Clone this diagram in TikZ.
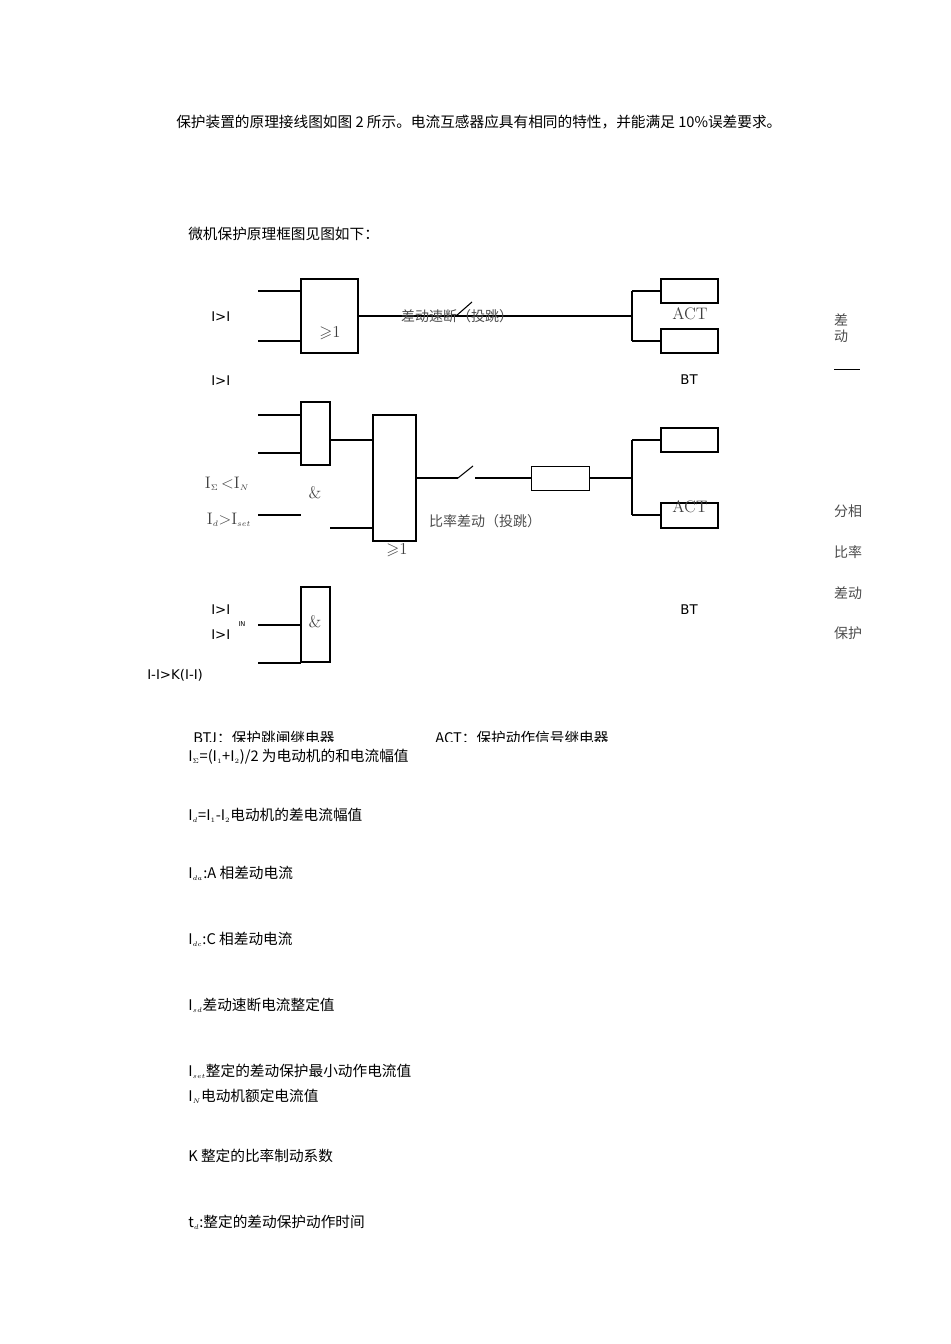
\documentclass[tikz,border=0pt]{standalone}
\usepackage{amssymb}
\usepackage{fontspec}
\newfontfamily\cjk{Noto Sans CJK SC}
\newfontfamily\sans{DejaVu Sans}
\begin{document}
\begin{tikzpicture}[x=0.75pt,y=-0.75pt,
  box/.style={draw,line width=0.9pt},
  wire/.style={line width=0.8pt},
  tx/.style={font=\cjk\fontsize{11}{12}\selectfont,inner sep=0pt},
  lb/.style={font=\cjk\fontsize{10.5}{12}\selectfont,inner sep=0pt,text=black!70},
  sm/.style={font=\sans\fontsize{10}{12}\selectfont,inner sep=0pt},
  ser/.style={font=\fontsize{12.5}{13}\selectfont,inner sep=0pt,text=black!75}]
\useasboundingbox (0,0) rectangle (950,1344);
\node[tx,anchor=west] (t1) at (176,122) {保护装置的原理接线图如图 2 所示。电流互感器应具有相同的特性，并能满足 10\%误差要求。};
\node[tx,anchor=west] (t2) at (188,234) {微机保护原理框图见图如下：};
% block 1
\draw[box] (301,279) rectangle (358,353);
\node[ser] (g1) at (330,333) {$\geqslant$1};
\draw[wire] (258,291) -- (301,291);
\draw[wire] (258,341) -- (301,341);
\node[sm,anchor=west] (l1) at (211,317) {I>I};
\node[sm,anchor=west] (l2) at (211,381) {I>I};
\draw[wire] (358,316) -- (632,316);
\draw[wire] (456,316) -- (472,302);
\node[lb] (s1) at (457,316) {差动速断（投跳）};
\draw[wire] (632,291) -- (632,341);
\draw[wire] (632,291) -- (661,291);
\draw[wire] (632,341) -- (661,341);
\draw[box] (661,279) rectangle (718,303);
\draw[box] (661,329) rectangle (718,353);
\node[ser] (a1) at (690,314) {ACT};
\node[sm] (b1) at (689,380) {BT};
% block 2
\draw[box] (301,402) rectangle (330,465);
\draw[wire] (258,415) -- (301,415);
\draw[wire] (258,453) -- (301,453);
\draw[wire] (330,440) -- (373,440);
\draw[box] (373,415) rectangle (416,541);
\draw[line width=1.6pt] (373,415) -- (373,541);
\node[ser] (g2) at (397,550) {$\geqslant$1};
\node[ser] (am1) at (315,493) {\&};
\draw[wire] (258,515) -- (301,515);
\draw[wire] (330,528) -- (373,528);
\node[ser] (c1) at (227,484) {I$_{\scriptscriptstyle\Sigma}$\,<I$_{\scriptscriptstyle N}$};
\node[ser] (c2) at (229,520) {I$_{\scriptscriptstyle d}$>I$_{\scriptscriptstyle set}$};
\draw[wire] (416,478) -- (458,478);
\draw[wire] (458,478) -- (473,466);
\draw[wire] (475,478) -- (531,478);
\draw[box,line width=0.7pt] (531,466) rectangle (589,490);
\draw[wire] (589,478) -- (632,478);
\node[lb] (s2) at (485,521) {比率差动（投跳）};
\draw[wire] (632,440) -- (632,515);
\draw[wire] (632,440) -- (661,440);
\draw[wire] (632,515) -- (661,515);
\draw[box] (661,428) rectangle (718,452);
\draw[box] (661,503) rectangle (718,528);
\node[ser] (a2) at (690,507) {ACT};
\node[sm] (b2) at (689,610) {BT};
% block 3
\draw[box] (301,587) rectangle (330,662);
\node[ser] (am2) at (315,622) {\&};
\draw[wire] (258,625) -- (301,625);
\draw[wire] (258,663) -- (301,663);
\node[sm,anchor=west] (d1) at (211,610) {I>I};
\node[sm,anchor=west] (d2) at (211,635) {I>I};
\node[sm,font=\sans\fontsize{5}{6}\selectfont] (d3) at (242,624) {IN};
\node[sm,anchor=west] (d4) at (147,675) {I-I>K(I-I)};
% right labels
\node[lb] (r1) at (841,320) {差};
\node[lb] (r2) at (841,336) {动};
\draw[line width=0.4pt] (834,369) -- (860,369);
\node[lb] (r3) at (848,511) {分相};
\node[lb] (r4) at (848,552) {比率};
\node[lb] (r5) at (848,593) {差动};
\node[lb] (r6) at (848,633) {保护};
% bottom
\node[tx,anchor=west] (e1) at (193,738) {BTJ：保护跳闸继电器};
\node[tx,anchor=west] (e2) at (435,738) {ACT：保护动作信号继电器};
\fill[white] (150,742) rectangle (700,748);
\node[tx,anchor=west] (f1) at (188,757) {I$_{\scriptscriptstyle\Sigma}$=(I$_{\scriptscriptstyle 1}$+I$_{\scriptscriptstyle 2}$)/2 为电动机的和电流幅值};
\node[tx,anchor=west] (f2) at (188,815) {I$_{\scriptscriptstyle d}$=I$_{\scriptscriptstyle 1}$-I$_{\scriptscriptstyle 2}$电动机的差电流幅值};
\node[tx,anchor=west] (f3) at (188,873) {I$_{\scriptscriptstyle da}$:A 相差动电流};
\node[tx,anchor=west] (f4) at (188,939) {I$_{\scriptscriptstyle dc}$:C 相差动电流};
\node[tx,anchor=west] (f5) at (188,1005) {I$_{\scriptscriptstyle sd}$差动速断电流整定值};
\node[tx,anchor=west] (f6) at (188,1071) {I$_{\scriptscriptstyle set}$整定的差动保护最小动作电流值};
\node[tx,anchor=west] (f7) at (188,1096) {I$_{\scriptscriptstyle N}$电动机额定电流值};
\node[tx,anchor=west] (f8) at (188,1156) {K 整定的比率制动系数};
\node[tx,anchor=west] (f9) at (188,1222) {t$_{\scriptscriptstyle d}$:整定的差动保护动作时间};
\end{tikzpicture}
\end{document}
